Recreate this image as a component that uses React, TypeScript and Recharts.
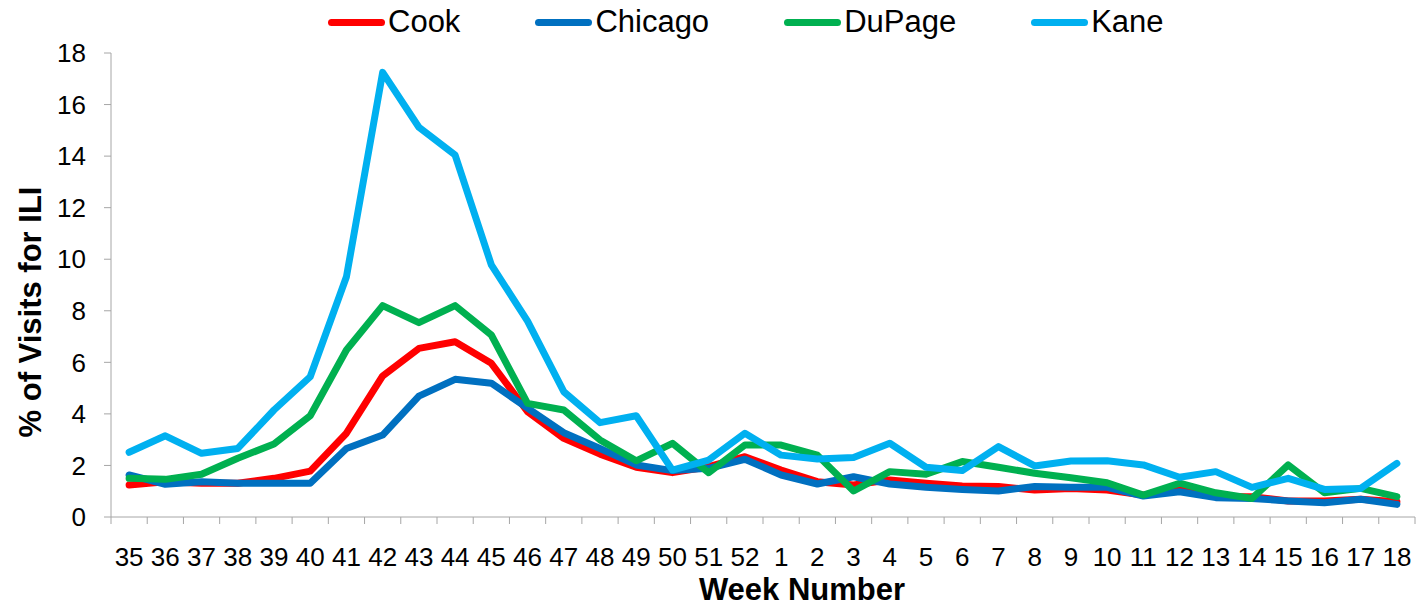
import { LineChart, Line, XAxis, YAxis, Label } from 'recharts';

const weeks = [
  '35', '36', '37', '38', '39', '40', '41', '42', '43', '44', '45', '46', '47', '48', '49', '50', '51', '52',
  '1', '2', '3', '4', '5', '6', '7', '8', '9', '10', '11', '12', '13', '14', '15', '16', '17', '18',
];

const cook = [
  1.24, 1.37, 1.31, 1.31, 1.5, 1.78, 3.25, 5.47, 6.54, 6.8, 5.96, 4.09, 3.05, 2.44, 1.93, 1.72, 1.95, 2.34,
  1.82, 1.37, 1.24, 1.44, 1.31, 1.2, 1.18, 1.05, 1.11, 1.05, 0.85, 1.15, 0.79, 0.79, 0.62, 0.62, 0.69, 0.59,
];

const chicago = [
  1.63, 1.27, 1.37, 1.31, 1.31, 1.31, 2.66, 3.18, 4.69, 5.34, 5.19, 4.22, 3.27, 2.66, 2.02, 1.8, 1.89, 2.24,
  1.63, 1.28, 1.56, 1.28, 1.15, 1.07, 1.01, 1.18, 1.15, 1.15, 0.81, 0.98, 0.75, 0.72, 0.62, 0.55, 0.69, 0.49,
];

const dupage = [
  1.5, 1.46, 1.66, 2.28, 2.83, 3.93, 6.48, 8.2, 7.54, 8.2, 7.06, 4.41, 4.15, 2.99, 2.18, 2.86, 1.72, 2.79,
  2.79, 2.4, 1.01, 1.76, 1.66, 2.15, 1.93, 1.7, 1.52, 1.33, 0.85, 1.31, 0.94, 0.72, 2.02, 0.94, 1.11, 0.79,
];

const kane = [
  2.51, 3.15, 2.47, 2.66, 4.15, 5.44, 9.32, 17.25, 15.12, 14.04, 9.78, 7.6, 4.86, 3.66, 3.93, 1.82, 2.21, 3.25,
  2.4, 2.25, 2.31, 2.86, 1.93, 1.8, 2.73, 1.98, 2.17, 2.18, 2.02, 1.54, 1.76, 1.15, 1.5, 1.07, 1.11, 2.08,
];

const yTicks = [0, 2, 4, 6, 8, 10, 12, 14, 16, 18];

const series = [
  { key: 'Cook', color: '#FF0000' },
  { key: 'Chicago', color: '#0070C0' },
  { key: 'DuPage', color: '#00B050' },
  { key: 'Kane', color: '#00B0F0' },
];

const data = weeks.map((w, i) => ({
  week: w,
  Cook: cook[i],
  Chicago: chicago[i],
  DuPage: dupage[i],
  Kane: kane[i],
}));

const FONT = '"Liberation Sans", Arial, sans-serif';
const AXIS_GRAY = '#A6A6A6';
const W = 1428;
const H = 609;
const PLOT_LEFT = 111;
const PLOT_RIGHT = 13;
const BAND = (W - PLOT_LEFT - PLOT_RIGHT) / weeks.length;

function WeekTick(props: any) {
  const { x, y, payload, index } = props;
  const last = index === weeks.length - 1;
  return (
    <g>
      <line x1={x - BAND / 2} x2={x - BAND / 2} y1={y} y2={y + 7} stroke={AXIS_GRAY} />
      {last && <line x1={x + BAND / 2} x2={x + BAND / 2} y1={y} y2={y + 7} stroke={AXIS_GRAY} />}
      <text x={x} y={y + 49} textAnchor="middle" fontSize={26} fontFamily={FONT} fill="#000">
        {payload.value}
      </text>
    </g>
  );
}

export default function App() {
  return (
    <div style={{ position: 'absolute', left: 0, top: 0, width: W, height: H, background: '#fff' }}>
      <div
        style={{
          position: 'absolute',
          left: 328,
          top: 0,
          display: 'flex',
          gap: 75,
          fontFamily: FONT,
          fontSize: 31,
          lineHeight: '44px',
          color: '#000',
        }}
      >
        {series.map((s) => (
          <div key={s.key} style={{ display: 'flex', alignItems: 'center' }}>
            <div style={{ width: 57, height: 7, borderRadius: 4, background: s.color, marginRight: 3 }} />
            <span>{s.key}</span>
          </div>
        ))}
      </div>
      <LineChart width={W} height={H} data={data} margin={{ top: 53, right: PLOT_RIGHT, left: 0, bottom: 0 }}>
        <XAxis
          dataKey="week"
          height={92}
          padding={{ left: BAND / 2, right: BAND / 2 }}
          stroke={AXIS_GRAY}
          tickLine={false}
          tickSize={0}
          tickMargin={0}
          interval={0}
          tick={<WeekTick />}
        >
          <Label
            content={() => (
              <text x={802} y={600} textAnchor="middle" fontSize={31} fontWeight="bold" fontFamily={FONT} fill="#000">
                Week Number
              </text>
            )}
          />
        </XAxis>
        <YAxis
          width={PLOT_LEFT}
          domain={[0, 18]}
          ticks={yTicks}
          interval={0}
          stroke={AXIS_GRAY}
          tickSize={7}
          tickMargin={18}
          tick={{ fontSize: 26, fill: '#000', fontFamily: FONT }}
        >
          <Label
            content={() => (
              <text
                x={30}
                y={312}
                transform="rotate(-90, 30, 312)"
                textAnchor="middle"
                dominantBaseline="central"
                fontSize={31}
                fontWeight="bold"
                fontFamily={FONT}
                fill="#000"
              >
                % of Visits for ILI
              </text>
            )}
          />
        </YAxis>
        {series.map((s) => (
          <Line
            key={s.key}
            type="linear"
            dataKey={s.key}
            stroke={s.color}
            strokeWidth={7}
            strokeLinejoin="round"
            strokeLinecap="round"
            dot={false}
            activeDot={false}
            isAnimationActive={false}
          />
        ))}
      </LineChart>
    </div>
  );
}
